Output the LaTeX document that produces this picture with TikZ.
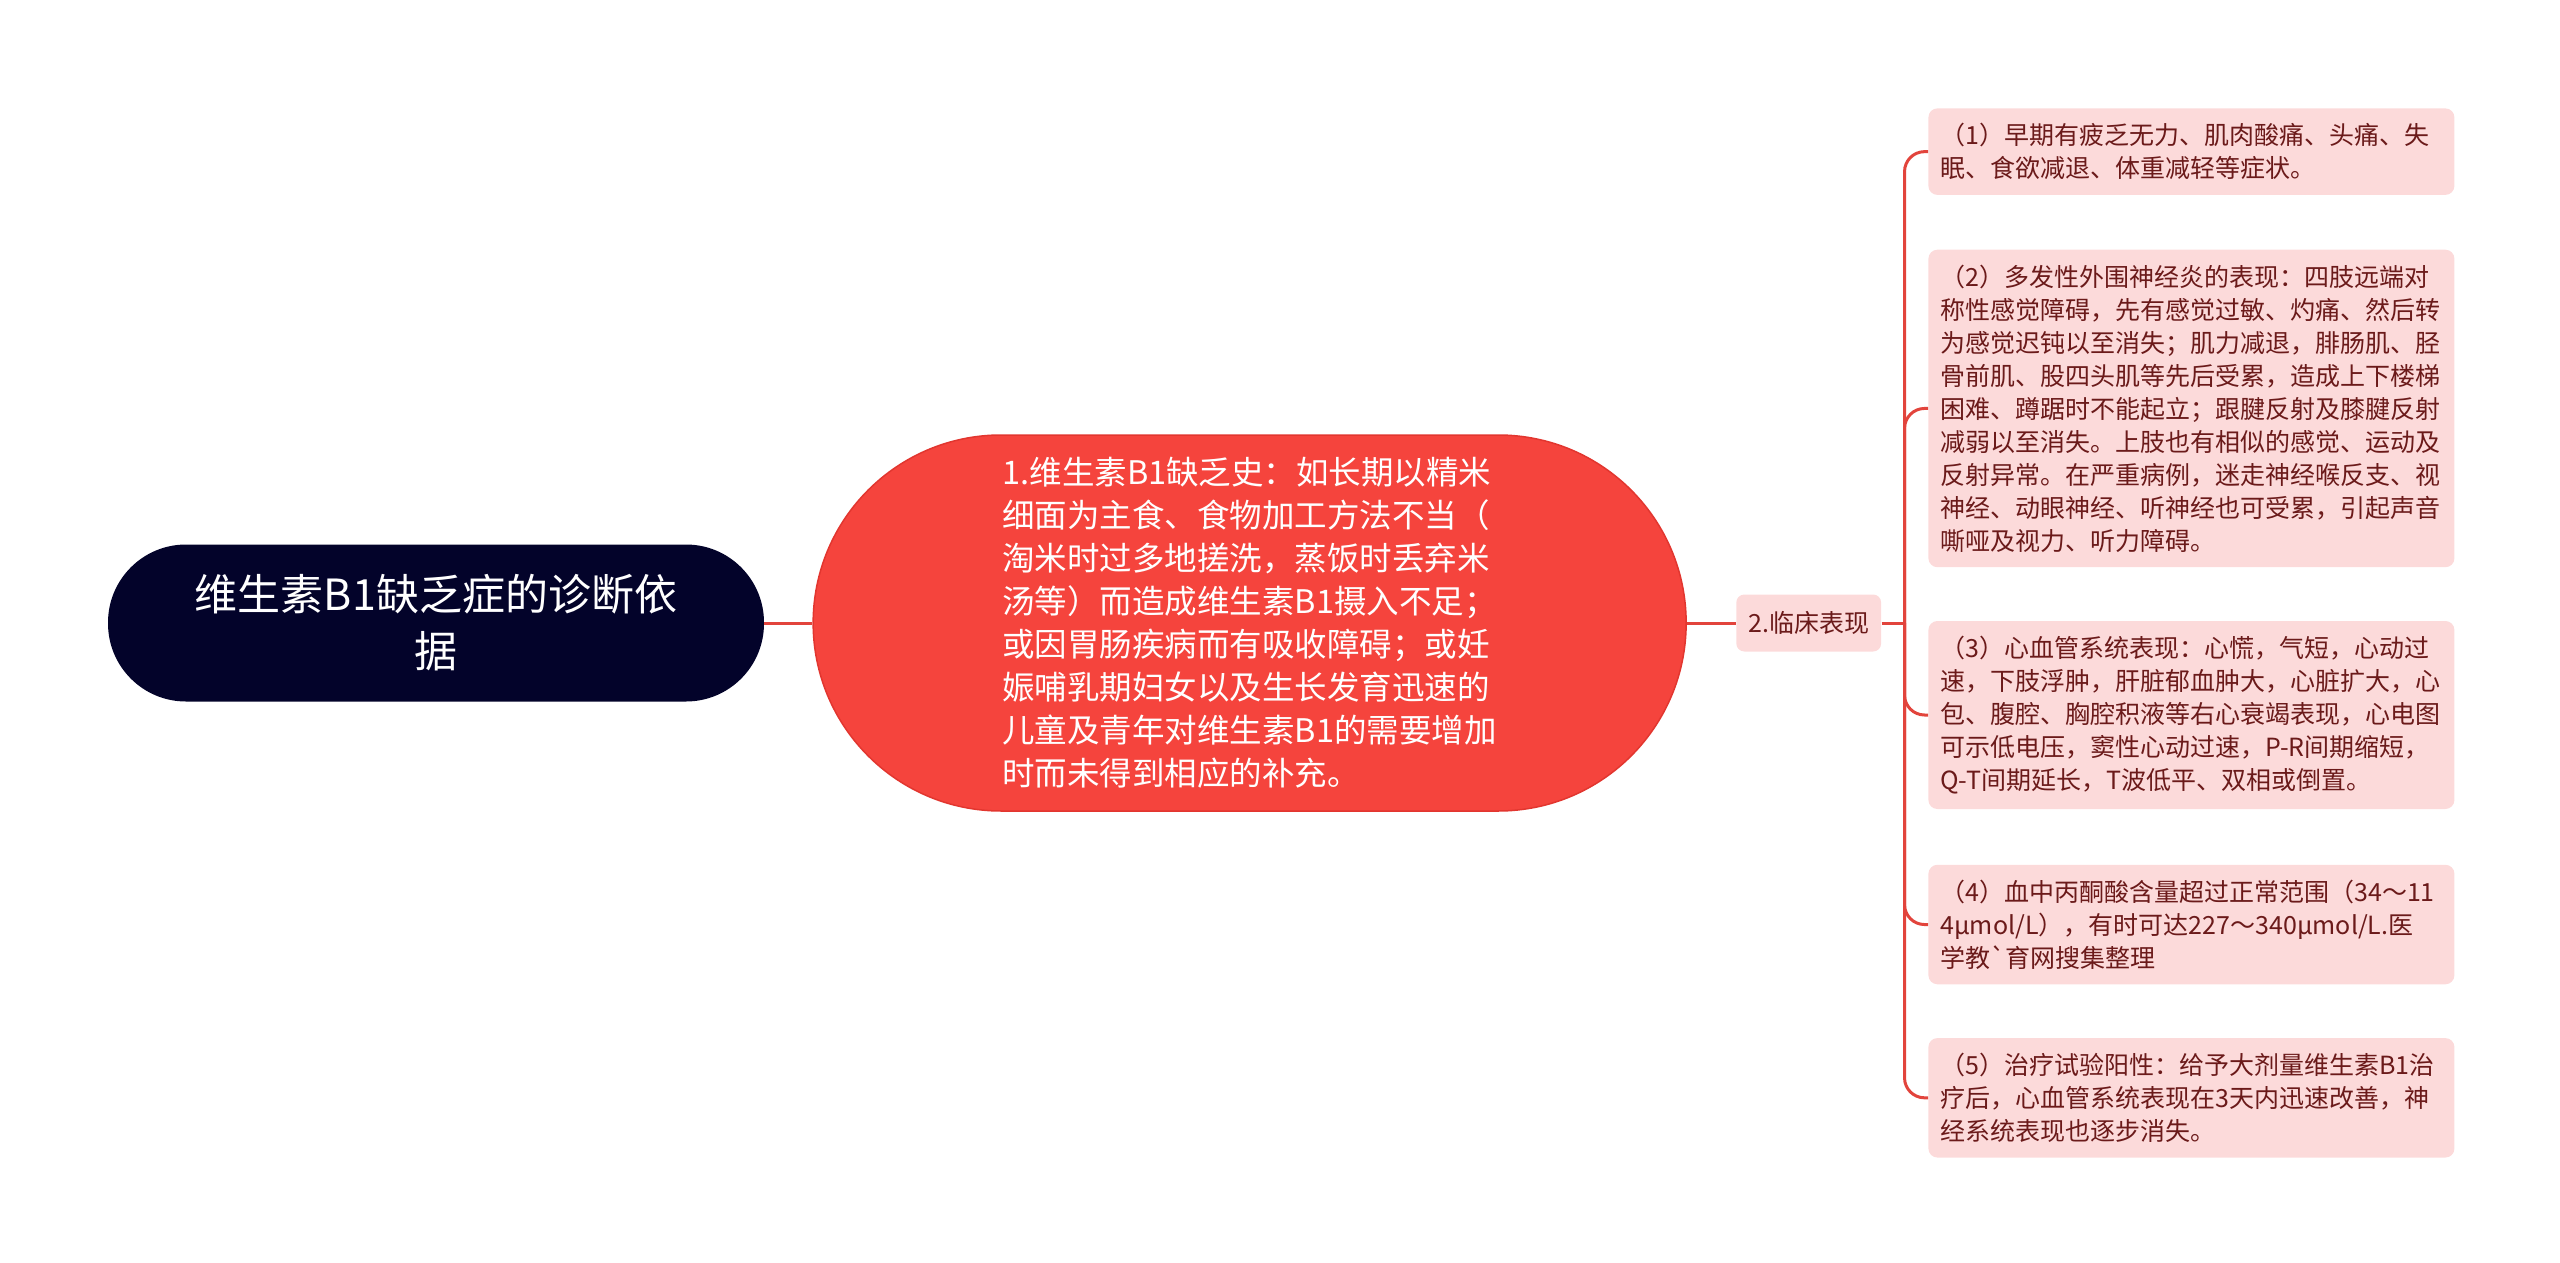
\documentclass[tikz,border=0pt]{standalone}
\usepackage{fontspec}
\setmainfont{Noto Sans CJK SC}
\usepackage{tikz}
\usetikzlibrary{positioning}

\definecolor{azulRaiz}{HTML}{03032A}
\definecolor{rojoCentro}{HTML}{F5443D}
\definecolor{rojoBorde}{HTML}{E2362F}
\definecolor{rosaHoja}{HTML}{FCDADA}
\definecolor{textoHoja}{HTML}{6B1A1A}
\definecolor{rojoLinea}{HTML}{E2443C}

\newcommand{\acento}{\XeTeXglyph\XeTeXcharglyph"60\relax}

\begin{document}
\begin{tikzpicture}[x=1pt, y=-1pt, node distance=54pt, thick]
      \tikzstyle{rootNode} = [rectangle, fill=azulRaiz, text=white, rounded corners=78pt, minimum width=656pt, minimum height=157pt, align=center, font=\fontsize{43}{57}\selectfont]
      \tikzstyle{histNode} = [rectangle, fill=rojoCentro, draw=rojoBorde, line width=1.5pt, text=white, rounded corners=188pt, minimum width=873pt, minimum height=376pt, align=left, font=\fontsize{32.5}{43}\selectfont]
      \tikzstyle{tagNode} = [rectangle, fill=rosaHoja, text=textoHoja, rounded corners=8pt, minimum height=57pt, inner xsep=12pt, font=\fontsize{25}{33}\selectfont]
      \tikzstyle{leafNode} = [rectangle, fill=rosaHoja, text=textoHoja, rounded corners=9pt, text width=502pt, inner xsep=12pt, inner ysep=15pt, align=left, font=\fontsize{25}{33}\selectfont]
      \tikzstyle{myLine} = [draw=rojoLinea, line width=3pt]
      \tikzstyle{branch} = [myLine, rounded corners=20pt]

      \useasboundingbox (0,0) rectangle (2560,1263);

      % Definición de nodos
      \node at (436,623) [rootNode] (root) {维生素B1缺乏症的诊断依\\据};
      \node [histNode, right=48pt of root] (hist) {1.维生素B1缺乏史：如长期以精米\\细面为主食、食物加工方法不当（\\淘米时过多地搓洗，蒸饭时丢弃米\\汤等）而造成维生素B1摄入不足；\\或因胃肠疾病而有吸收障碍；或妊\\娠哺乳期妇女以及生长发育迅速的\\儿童及青年对维生素B1的需要增加\\时而未得到相应的补充。};
      \node [tagNode, right=49pt of hist] (clin) {2.临床表现};
      \coordinate [right=23pt of clin] (fork);

      \node at (1928,108) [leafNode, anchor=north west] (s1) {（1）早期有疲乏无力、肌肉酸痛、头痛、失\\眠、食欲减退、体重减轻等症状。};
      \node [leafNode, below=54pt of s1.south west, anchor=north west] (s2) {（2）多发性外围神经炎的表现：四肢远端对\\称性感觉障碍，先有感觉过敏、灼痛、然后转\\为感觉迟钝以至消失；肌力减退，腓肠肌、胫\\骨前肌、股四头肌等先后受累，造成上下楼梯\\困难、蹲踞时不能起立；跟腱反射及膝腱反射\\减弱以至消失。上肢也有相似的感觉、运动及\\反射异常。在严重病例，迷走神经喉反支、视\\神经、动眼神经、听神经也可受累，引起声音\\嘶哑及视力、听力障碍。};
      \node [leafNode, below=53pt of s2.south west, anchor=north west] (s3) {（3）心血管系统表现：心慌，气短，心动过\\速，下肢浮肿，肝脏郁血肿大，心脏扩大，心\\包、腹腔、胸腔积液等右心衰竭表现，心电图\\可示低电压，窦性心动过速，P-R间期缩短，\\Q-T间期延长，T波低平、双相或倒置。};
      \node [leafNode, below=55pt of s3.south west, anchor=north west] (s4) {（4）血中丙酮酸含量超过正常范围（34～11\\4μmol/L），有时可达227～340μmol/L.医\\学教\acento 育网搜集整理};
      \node [leafNode, below=53pt of s4.south west, anchor=north west] (s5) {（5）治疗试验阳性：给予大剂量维生素B1治\\疗后，心血管系统表现在3天内迅速改善，神\\经系统表现也逐步消失。};

      \draw [myLine] (root) -- (hist);
      \draw [myLine] (hist) -- (clin);
      \draw [myLine] (clin) -- (fork);
      \foreach \i in {1,...,5}
        \draw [branch] (fork) |- (s\i.west);

    \end{tikzpicture}
\end{document}
